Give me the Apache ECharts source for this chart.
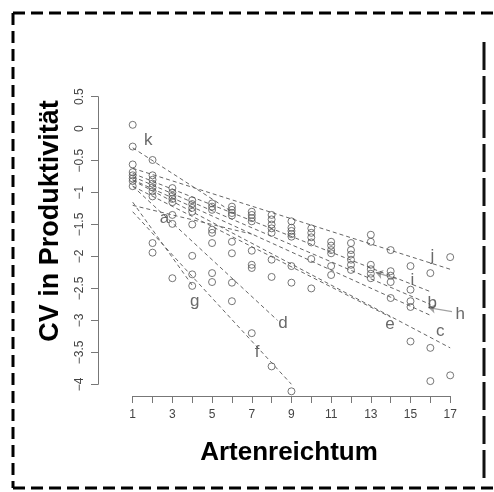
<!DOCTYPE html>
<html>
<head>
<meta charset="utf-8">
<script src="https://cdn.jsdelivr.net/npm/echarts@6/dist/echarts.min.js"></script>
<style>
  html, body { margin: 0; padding: 0; background: #fff; }
  #chart { width: 494px; height: 492px; }
</style>
</head>
<body>
<div id="chart"></div>
<script>
// Artenreichtum (x) der Messpunkte, eine Spalte pro Wert
const pointX = [1, 2, 3, 4, 5, 6, 7, 8, 9, 10, 11, 12, 13, 14, 15, 16, 17]
// CV-Werte je Spalte
const pointY = [
  [0.06, -0.28, -0.56, -0.68, -0.73, -0.78, -0.82, -0.9],
  [-0.49, -0.73, -0.8, -0.86, -0.92, -0.98, -1.06, -1.79, -1.94],
  [-0.93, -1.0, -1.05, -1.1, -1.15, -1.35, -1.49, -2.34],
  [-1.12, -1.18, -1.24, -1.3, -1.5, -1.99, -2.28, -2.46],
  [-1.17, -1.22, -1.27, -1.58, -1.63, -1.79, -2.26, -2.4],
  [-1.22, -1.27, -1.32, -1.36, -1.77, -1.95, -2.41, -2.7],
  [-1.3, -1.35, -1.4, -1.45, -1.91, -2.13, -2.18, -3.2],
  [-1.35, -1.42, -1.5, -1.56, -1.63, -2.05, -2.32, -3.72],
  [-1.45, -1.55, -1.6, -1.65, -1.69, -2.15, -2.41, -4.11],
  [-1.56, -1.63, -1.7, -1.78, -2.04, -2.5],
  [-1.77, -1.83, -1.9, -1.95, -2.15, -2.29],
  [-1.79, -1.9, -1.97, -2.05, -2.13, -2.21],
  [-1.66, -1.77, -2.13, -2.2, -2.27, -2.34],
  [-1.9, -2.23, -2.3, -2.4, -2.65],
  [-2.15, -2.52, -2.7, -2.79, -3.33],
  [-2.26, -3.43, -3.95],
  [-2.01, -3.86]
]

// Regressionslinien a-k: Start- und Endpunkt
const lineNames = ['a', 'b', 'c', 'd', 'e', 'f', 'g', 'h', 'i', 'j', 'k']
const lineStart = [[1, -1.2], [1, -0.75], [1, -0.81], [1, -0.9], [1, -0.9], [1, -1.3], [1, -1.15], [1, -0.8], [1, -0.7], [1, -0.62], [1, -0.3]]
const lineEnd = [[7, -1.65], [16, -2.75], [17, -3.43], [8.3, -3.0], [14, -2.95], [9, -4.0], [4, -2.45], [16, -2.92], [16, -2.55], [17, -2.2], [6, -1.3]]

// Beschriftungen der Linien
const labelText = ['a', 'b', 'c', 'd', 'e', 'f', 'g', 'h', 'i', 'j', 'k']
const labelPos = [[2.6, -1.4], [16.1, -2.73], [16.5, -3.17], [8.57, -3.04], [13.96, -3.06], [7.27, -3.5], [4.13, -2.7], [17.5, -2.9], [15.1, -2.37], [16.1, -1.99], [1.78, -0.18]]

// Pfeile (von, nach)
const arrows = [
  [[17.2, -2.87], [15.9, -2.8]],
  [[14.3, -2.35], [13.25, -2.25]]
]

const xTicks = [1, 3, 5, 7, 9, 11, 13, 15, 17]

const points = []
pointX.forEach((x, i) => {
  pointY[i].forEach(y => points.push([x, y]))
})

const series = []
lineNames.forEach((n, i) => {
  series.push({
    name: n,
    type: 'line',
    data: [lineStart[i], lineEnd[i]],
    symbol: 'none',
    silent: true,
    lineStyle: { color: '#666', width: 1, type: [4, 3] },
    z: 2
  })
})
series.push({
  type: 'scatter',
  data: points,
  symbol: 'circle',
  symbolSize: 7,
  clip: false,
  itemStyle: { color: 'rgba(255,255,255,0)', borderColor: '#555', borderWidth: 1 },
  z: 3
})
series.push({
  type: 'scatter',
  data: labelPos.map((p, i) => ({ value: p, name: labelText[i] })),
  symbolSize: 0,
  clip: false,
  label: {
    show: true,
    position: 'inside',
    formatter: p => p.name,
    fontFamily: 'Liberation Sans',
    fontSize: 17,
    color: '#444'
  },
  z: 4
})
series.push({
  type: 'lines',
  coordinateSystem: 'cartesian2d',
  data: arrows.map(a => ({ coords: a })),
  symbol: ['none', 'arrow'],
  symbolSize: 7,
  lineStyle: { color: '#444', width: 1.3, type: 'solid' },
  z: 4
})

let myChart = echarts.init(document.getElementById('chart'))
myChart.setOption({
  animation: false,
  backgroundColor: '#fff',
  grid: { left: 132.7, right: 43.8, top: 96.7, bottom: 107.7 },
  xAxis: {
    type: 'value',
    min: 1,
    max: 17,
    interval: 1,
    offset: 11.7,
    axisLine: { show: true, onZero: false, lineStyle: { color: '#777', width: 1 } },
    axisTick: { show: true, length: 7, lineStyle: { color: '#777' } },
    splitLine: { show: false },
    axisLabel: {
      formatter: v => (xTicks.indexOf(v) >= 0 ? String(v) : ''),
      fontFamily: 'Liberation Sans',
      fontSize: 12,
      color: '#444',
      margin: 13
    }
  },
  yAxis: {
    type: 'value',
    min: -4,
    max: 0.5,
    interval: 0.5,
    offset: 34.7,
    axisLine: { show: true, onZero: false, lineStyle: { color: '#777', width: 1 } },
    axisTick: { show: true, length: 7, lineStyle: { color: '#777' } },
    splitLine: { show: false },
    axisLabel: {
      rotate: 90,
      formatter: v => String(v).replace('-', '\u2212'),
      fontFamily: 'Liberation Sans',
      fontSize: 12,
      color: '#444',
      margin: 12
    }
  },
  graphic: [
    {
      type: 'text',
      x: 51, y: 221,
      rotation: Math.PI / 2,
      style: {
        text: 'CV in Produktivität',
        fontFamily: 'Liberation Sans',
        fontWeight: 'bold',
        fontSize: 27,
        fill: '#000',
        align: 'center',
        verticalAlign: 'middle'
      }
    },
    {
      type: 'text',
      x: 289, y: 453,
      style: {
        text: 'Artenreichtum',
        fontFamily: 'Liberation Sans',
        fontWeight: 'bold',
        fontSize: 26,
        fill: '#000',
        align: 'center',
        verticalAlign: 'middle'
      }
    },
    { type: 'line', shape: { x1: 13, y1: 13, x2: 494, y2: 13 }, style: { stroke: '#000', lineWidth: 3, lineDash: [12, 6] } },
    { type: 'line', shape: { x1: 13, y1: 13, x2: 13, y2: 488 }, style: { stroke: '#000', lineWidth: 3, lineDash: [12, 6] } },
    { type: 'line', shape: { x1: 13, y1: 488, x2: 494, y2: 488 }, style: { stroke: '#000', lineWidth: 3, lineDash: [12, 6] } },
    { type: 'line', shape: { x1: 484, y1: 42, x2: 484, y2: 478 }, style: { stroke: '#111', lineWidth: 3, lineDash: [28, 6] } }
  ],
  series: series
})
</script>
</body>
</html>
